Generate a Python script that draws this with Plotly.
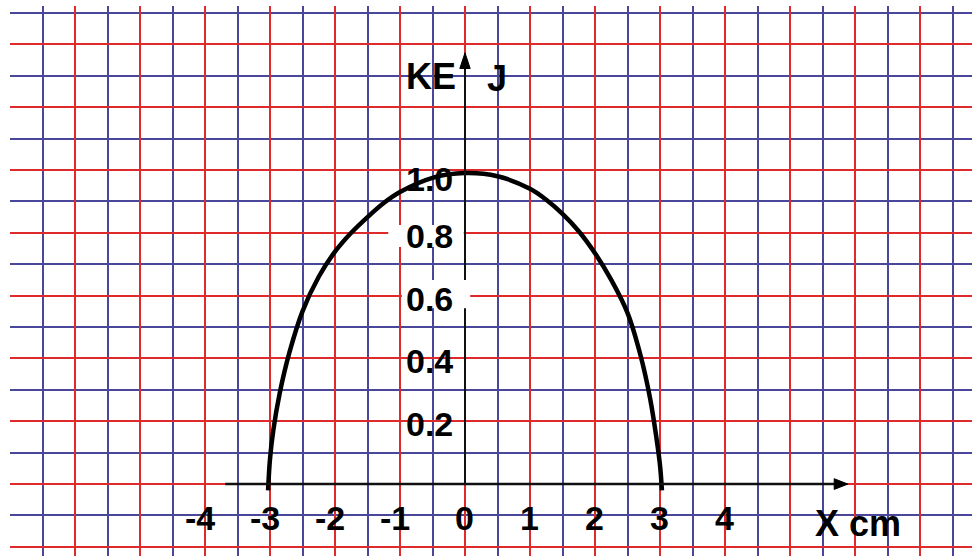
import plotly.graph_objects as go

# ---- data ----
x_cm = [-3.03, -3.0, -2.95, -2.85, -2.7, -2.5, -2.25, -2.0, -1.75, -1.5, -1.25, -1.0,
        -0.5, 0.0, 0.5, 1.0, 1.25, 1.5, 1.75, 2.0, 2.25, 2.5, 2.7, 2.85, 2.95, 3.0, 3.03]
ke_j = [-0.02, 0.08, 0.17, 0.29, 0.42, 0.55, 0.66, 0.74, 0.80, 0.85, 0.895, 0.93,
        0.975, 0.99, 0.98, 0.94, 0.905, 0.86, 0.805, 0.735, 0.65, 0.545, 0.41, 0.27,
        0.14, 0.06, -0.02]

x_tick_labels = ["-4", "-3", "-2", "-1", "0", "1", "2", "3", "4"]
x_tick_values = [-4, -3, -2, -1, 0, 1, 2, 3, 4]
y_tick_labels = ["1.0", "0.8", "0.6", "0.4", "0.2"]
y_tick_values = [1.0, 0.8, 0.6, 0.4, 0.2]

RED = "#de2a2a"
BLUE = "#4a4699"
FONT = "Liberation Sans, Arial, sans-serif"

fig = go.Figure()
fig.add_trace(go.Scatter(x=x_cm, y=ke_j, mode="lines",
                         line=dict(color="black", width=4.5, shape="spline", smoothing=1.0),
                         hoverinfo="skip", showlegend=False))

fig.update_layout(
    width=972, height=556,
    margin=dict(l=10, r=0, t=6, b=0),
    paper_bgcolor="white", plot_bgcolor="white",
    showlegend=False,
    xaxis=dict(range=[-7, 7.8], showticklabels=False, zeroline=False, showline=False,
               ticks="", tick0=0, dtick=1, showgrid=True, gridcolor=RED, gridwidth=2,
               minor=dict(tick0=0, dtick=0.5, showgrid=True, gridcolor=BLUE, gridwidth=2)),
    yaxis=dict(range=[-0.229, 1.522], showticklabels=False, zeroline=False, showline=False,
               ticks="", tick0=0, dtick=0.2, showgrid=True, gridcolor=RED, gridwidth=2,
               minor=dict(tick0=0, dtick=0.1, showgrid=True, gridcolor=BLUE, gridwidth=2)),
)

# axes with arrows
x_axis_start, x_axis_tip = -3.69, 5.89
y_axis_tip = 1.373
shapes = [
    dict(type="line", xref="x", yref="y", x0=x_axis_start, x1=x_axis_tip - 0.1, y0=0, y1=0,
         line=dict(color="#111111", width=2.5), layer="above"),
    dict(type="line", xref="x", yref="y", x0=0, x1=0, y0=0, y1=y_axis_tip - 0.03,
         line=dict(color="#111111", width=2), layer="above"),
    dict(type="path", xref="x", yref="y",
         path=f"M {x_axis_tip},0 L {x_axis_tip-0.21},0.017 L {x_axis_tip-0.21},-0.017 Z",
         fillcolor="black", line=dict(color="black", width=1), layer="above"),
    dict(type="path", xref="x", yref="y",
         path=f"M 0,{y_axis_tip} L -0.08,{y_axis_tip-0.05} L 0.08,{y_axis_tip-0.05} Z",
         fillcolor="black", line=dict(color="black", width=1), layer="above"),
    # white patches behind 0.8 and 0.6 labels
    dict(type="rect", xref="x", yref="y", x0=-1.18, x1=-0.02, y0=0.755, y1=0.825,
         fillcolor="white", line=dict(width=0), layer="above"),
    dict(type="rect", xref="x", yref="y", x0=-0.97, x1=0.08, y0=0.56, y1=0.65,
         fillcolor="white", line=dict(width=0), layer="above"),
]
fig.update_layout(shapes=shapes)

ann = []
for lab, v in zip(x_tick_labels, x_tick_values):
    ann.append(dict(x=v, y=-0.108, xref="x", yref="y", text=f"<b>{lab}</b>", showarrow=False,
                    xanchor="center", yanchor="middle", xshift=-5 if v < 0 else -1,
                    font=dict(family=FONT, size=34, color="black")))
for lab, v in zip(y_tick_labels, y_tick_values):
    ann.append(dict(x=-0.54, y=v, xref="x", yref="y", text=f"<b>{lab}</b>", showarrow=False,
                    xanchor="center", yanchor="middle", yshift=-9 if v == 1.0 else -3,
                    font=dict(family=FONT, size=34, color="black")))
ann.append(dict(x=-0.52, y=1.296, xref="x", yref="y", text="<b>KE</b>", showarrow=False,
                font=dict(family=FONT, size=36, color="black")))
ann.append(dict(x=0.49, y=1.29, xref="x", yref="y", text="<b>J</b>", showarrow=False,
                font=dict(family=FONT, size=36, color="black")))
ann.append(dict(x=6.05, y=-0.125, xref="x", yref="y", text="<b>X cm</b>", showarrow=False,
                font=dict(family=FONT, size=36, color="black")))
fig.update_layout(annotations=ann)

fig.write_html("out.html", config={"displayModeBar": False},
               post_script="document.body.style.margin='0';document.body.style.overflow='hidden';")
